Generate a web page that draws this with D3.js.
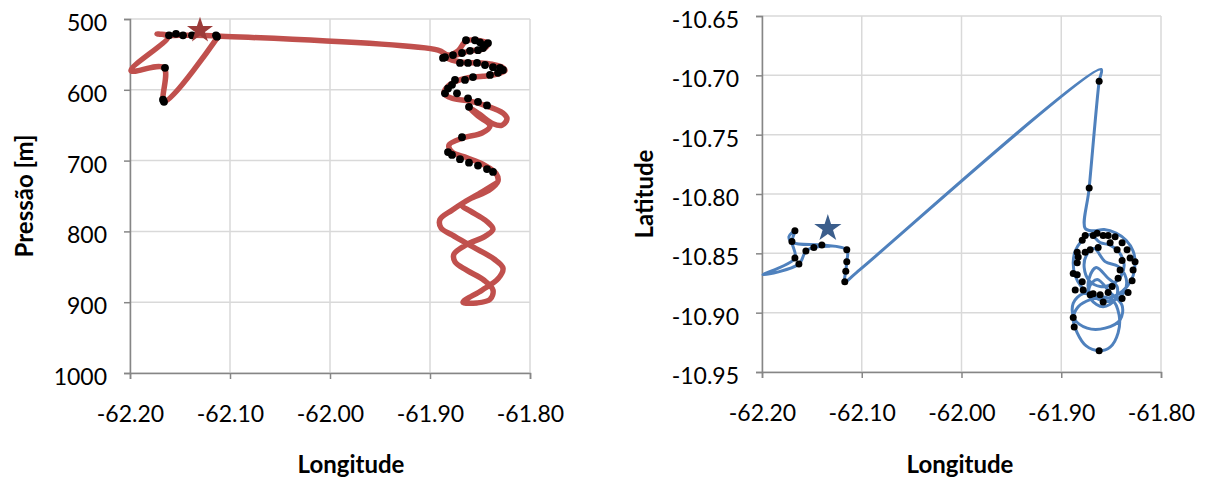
<!DOCTYPE html>
<html><head><meta charset="utf-8">
<script src="https://cdn.jsdelivr.net/npm/d3@7"></script>
<style>html,body{margin:0;padding:0;background:#fff;} svg{display:block;font-family:Lato,"Open Sans",sans-serif;}</style>
</head><body><svg id="c" width="1207" height="479"></svg>
<script>
// ---- tick values ----
const lonTicks = [-62.2, -62.1, -62.0, -61.9, -61.8];
const presTicks = [500, 600, 700, 800, 900, 1000];
const latTicks = [-10.95, -10.9, -10.85, -10.8, -10.75, -10.7, -10.65];

// ---- left panel: flight track (longitude vs pressure) ----
const trackLonL = [-62.113,-62.166,-62.166,-62.199,-62.162,-62.173,-62.160,-62.147,-62.138,-62.113,-61.892,
-61.882,-61.872,-61.864,-61.853,-61.842,-61.846,-61.860,-61.874,-61.883,-61.868,
-61.852,-61.838,-61.828,-61.825,-61.833,-61.847,-61.862,-61.874,-61.882,-61.886,
-61.878,-61.860,-61.843,-61.827,-61.823,-61.828,-61.837,-61.851,-61.860,-61.852,
-61.840,-61.848,-61.867,-61.881,-61.878,-61.863,-61.846,-61.834,-61.832,-61.841,
-61.860,-61.878,-61.890,-61.889,-61.878,-61.857,-61.836,-61.827,-61.832,-61.848,
-61.867,-61.853,-61.840,-61.837,-61.846,-61.863,-61.875,-61.876,-61.864,-61.845,
-61.837,-61.844,-61.860,-61.868,-61.850,-61.834];
const trackPres = [527,617,569,573,525,521,523,523,523,524,544,
551,545,531,530,535,542,545,551,555,561,
562,564,568,573,578,581,583,588,595,605,
612,616,623,633,641,650,648,634,626,637,
651,661,668,678,688,696,706,718,729,742,
754,770,783,795,805,822,839,852,867,883,
900,901,896,883,869,855,843,832,819,807,
797,785,771,763,746,732];
const dotLonL = [-62.166,-62.167,-62.165,-62.161,-62.154,-62.147,-62.138,-62.114,-62.113,
-61.864,-61.855,-61.850,-61.845,-61.842,-61.847,-61.852,-61.860,-61.868,-61.877,-61.885,-61.887,
-61.870,-61.862,-61.853,-61.845,-61.837,-61.830,-61.827,-61.832,-61.840,-61.857,-61.865,-61.875,-61.878,-61.882,-61.885,-61.873,-61.862,-61.852,-61.843,-61.861,
-61.868,-61.882,-61.878,-61.870,-61.861,-61.852,-61.843,-61.837];
const dotPresL = [617,614,569,523,521,523,523,523,525,
530,530,533,537,534,541,544,545,548,551,554,555,
562,562,562,565,568,569,572,576,579,582,586,586,593,598,605,605,612,617,622,624,
667,688,692,698,703,707,712,716];
const starLonL = [-62.130];
const starPresL = [516];

// ---- right panel: flight track (longitude vs latitude) ----
const trackLonR = [-62.132,-62.148,-62.156,-62.163,-62.199,-62.167,-62.170,-62.167,-62.173,-62.169,
-62.140,-62.115,-62.115,-62.116,-62.117,-62.105,-61.860,-61.862,-61.872,-61.876,
-61.868,-61.857,-61.845,-61.835,-61.828,-61.826,-61.828,-61.834,-61.844,-61.857,-61.870,-61.880,-61.886,-61.888,-61.886,-61.880,-61.871,
-61.861,-61.851,-61.842,-61.837,-61.840,-61.849,-61.861,-61.872,-61.877,-61.875,-61.867,
-61.856,-61.843,-61.835,-61.837,-61.849,-61.862,-61.872,-61.872,-61.865,
-61.853,-61.844,-61.846,-61.858,-61.870,-61.872,-61.864,
-61.851,-61.839,-61.841,-61.856,-61.874,-61.887,-61.888,-61.878,
-61.865,-61.849,-61.842,-61.843,-61.851,-61.862,-61.875,-61.884,-61.888,-61.883,-61.871,-61.856];
const trackLat = [-10.844,-10.845,-10.848,-10.859,-10.868,-10.854,-10.840,-10.831,-10.836,-10.841,
-10.843,-10.847,-10.857,-10.865,-10.874,-10.866,-10.695,-10.705,-10.795,-10.829,
-10.831,-10.830,-10.833,-10.839,-10.848,-10.858,-10.869,-10.878,-10.885,-10.888,-10.885,-10.878,-10.869,-10.858,-10.848,-10.840,-10.834,
-10.841,-10.843,-10.849,-10.859,-10.869,-10.876,-10.878,-10.873,-10.862,-10.852,-10.846,
-10.857,-10.861,-10.871,-10.883,-10.890,-10.889,-10.882,-10.871,-10.862,
-10.871,-10.878,-10.889,-10.895,-10.889,-10.879,-10.872,
-10.883,-10.894,-10.906,-10.913,-10.913,-10.905,-10.892,-10.884,
-10.886,-10.889,-10.902,-10.917,-10.929,-10.932,-10.928,-10.917,-10.905,-10.895,-10.889,-10.887];
const dotLonR = [-62.167,-62.170,-62.167,-62.163,-62.156,-62.148,-62.140,-62.115,-62.115,-62.116,-62.117,
-61.862,-61.872,
-61.876,-61.879,-61.868,-61.864,-61.858,-61.853,-61.846,-61.839,-61.834,-61.831,-61.826,-61.828,-61.829,-61.833,-61.839,-61.858,-61.861,-61.868,-61.871,-61.878,-61.879,-61.884,-61.888,-61.884,-61.883,-61.884,-61.876,-61.871,-61.863,-61.851,-61.844,-61.839,-61.841,-61.843,-61.849,-61.853,-61.886,-61.888,-61.887,-61.862];
const dotLatR = [-10.831,-10.840,-10.854,-10.859,-10.848,-10.845,-10.843,-10.847,-10.857,-10.865,-10.874,
-10.705,-10.795,
-10.835,-10.839,-10.835,-10.833,-10.835,-10.835,-10.836,-10.841,-10.847,-10.854,-10.857,-10.864,-10.873,-10.883,-10.888,-10.891,-10.885,-10.884,-10.885,-10.881,-10.874,-10.868,-10.867,-10.858,-10.853,-10.849,-10.849,-10.847,-10.845,-10.841,-10.847,-10.856,-10.864,-10.871,-10.878,-10.883,-10.881,-10.904,-10.912,-10.932];
const starLonR = [-62.134];
const starLatR = [-10.829];

const svg = d3.select("#c");
svg.append("rect").attr("width",1207).attr("height",479).attr("fill","#fff");

function panel(o){
  const x = d3.scaleLinear().domain(o.xDomain).range(o.xRange);
  const y = d3.scaleLinear().domain(o.yDomain).range(o.yRange);
  const g = svg.append("g");
  const [x0,x1] = o.xRange, yTop = Math.min(...o.yRange), yBot = Math.max(...o.yRange);
  // grid
  g.append("g").selectAll("line").data(o.xTicks).join("line")
    .attr("x1",d=>x(d)).attr("x2",d=>x(d)).attr("y1",yTop).attr("y2",yBot)
    .attr("stroke","#d9d9d9").attr("stroke-width",1.5);
  g.append("g").selectAll("line").data(o.yTicks).join("line")
    .attr("x1",x0).attr("x2",x1).attr("y1",d=>y(d)).attr("y2",d=>y(d))
    .attr("stroke","#d9d9d9").attr("stroke-width",1.5);
  // axes
  const ax = g.append("g").attr("transform",`translate(0,${yBot})`)
    .call(d3.axisBottom(x).tickValues(o.xTicks).tickSize(6).tickPadding(27).tickFormat(d=>d.toFixed(2)));
  const ay = g.append("g").attr("transform",`translate(${x0},0)`)
    .call(d3.axisLeft(y).tickValues(o.yTicks).tickSize(6).tickPadding(17).tickFormat(o.yFormat));
  [ax,ay].forEach(a=>{
    a.select(".domain").attr("stroke","#868686").attr("stroke-width",1.5);
    a.selectAll(".tick line").attr("stroke","#868686").attr("stroke-width",1.5);
    a.selectAll("text").attr("fill","#000").style("font-size","23px").style("font-family","Lato, 'Open Sans', sans-serif");
  });
  ay.selectAll("text").attr("dy","0.5em");
  // line
  const line = d3.line().x(d=>x(d[0])).y(d=>y(d[1])).curve(d3.curveCatmullRom.alpha(0.5));
  const pts = o.lx.map((v,i)=>[v,o.ly[i]]);
  g.append("path").attr("d",line(pts)).attr("fill","none").attr("stroke",o.color)
    .attr("stroke-width",o.lw).attr("stroke-linejoin","round").attr("stroke-linecap","round");
  // dots
  g.append("g").selectAll("circle").data(o.dx.map((v,i)=>[v,o.dy[i]])).join("circle")
    .attr("cx",d=>x(d[0])).attr("cy",d=>y(d[1])).attr("r",o.dr).attr("fill","#000");
  // star
  g.append("g").selectAll("path").data(o.sx.map((v,i)=>[v,o.sy[i]])).join("path")
    .attr("d",d3.symbol(d3.symbolStar,o.starSize)())
    .attr("transform",d=>`translate(${x(d[0])},${y(d[1])})`).attr("fill",o.starColor);
  // titles
  g.append("text").attr("x",o.xTitleX).attr("y",473).attr("text-anchor","middle")
    .style("font-size","24px").style("font-weight","bold").text("Longitude");
  g.append("text").attr("transform",`translate(${o.yTitleX},${o.yTitleY}) rotate(-90)`)
    .attr("text-anchor","middle").style("font-size","24px").style("font-weight","bold").text(o.yTitle);
}

panel({xDomain:[-62.2,-61.8], xRange:[130,530], yDomain:[500,1000], yRange:[19,373],
  xTicks:lonTicks, yTicks:presTicks, yFormat:d=>String(d),
  lx:trackLonL, ly:trackPres, color:"#c0504d", lw:5.5,
  dx:dotLonL, dy:dotPresL, dr:3.9,
  sx:starLonL, sy:starPresL, starSize:210, starColor:"#9c3b39",
  xTitleX:351, yTitleX:33, yTitleY:196, yTitle:"Pressão [m]"});

panel({xDomain:[-62.2,-61.8], xRange:[762,1161], yDomain:[-10.95,-10.65], yRange:[372,16],
  xTicks:lonTicks, yTicks:latTicks, yFormat:d=>d.toFixed(2),
  lx:trackLonR, ly:trackLat, color:"#4f81bd", lw:3,
  dx:dotLonR, dy:dotLatR, dr:3.5,
  sx:starLonR, sy:starLatR, starSize:230, starColor:"#3b5e8c",
  xTitleX:960, yTitleX:653, yTitleY:194, yTitle:"Latitude"});
</script>
</body></html>
